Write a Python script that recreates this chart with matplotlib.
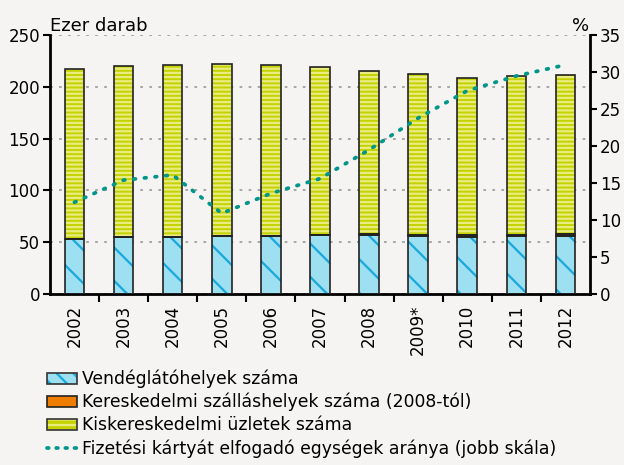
#!/usr/bin/env python3
"""Stacked bars (left scale) + card acceptance share line (right scale)."""

import matplotlib

matplotlib.use("Agg")
import matplotlib.pyplot as plt
from matplotlib.lines import Line2D
from matplotlib.patches import Patch

years = ["2002", "2003", "2004", "2005", "2006", "2007", "2008", "2009*", "2010", "2011", "2012"]
vendeglato = [53, 55, 55, 56, 56, 57, 56.5, 55.5, 55, 55.5, 55.5]
szallashely = [0, 0, 0, 0, 0, 0, 1.5, 1.5, 1.5, 1.5, 2]
kiskeresk = [164, 165, 166, 166, 165, 162, 158, 156, 152, 153.5, 154.5]
kartya_arany = [12.4, 15.4, 16.1, 10.9, 13.6, 15.6, 19.5, 23.8, 27.5, 29.5, 31.0]

labels = [
    "Vendéglátóhelyek száma",
    "Kereskedelmi szálláshelyek száma (2008-tól)",
    "Kiskereskedelmi üzletek száma",
    "Fizetési kártyát elfogadó egységek aránya (jobb skála)",
]

BG = "#f5f4f2"
BLUE = "#9de0f2"
BLUE_HATCH = "#1aa8dc"
ORANGE = "#ee7d00"
YELLOW = "#c4d200"
YELLOW_HATCH = "#e9ed80"
TEAL = "#00968a"
EDGE = "#222222"

plt.rcParams["font.family"] = ["DejaVu Sans"]
plt.rcParams["font.size"] = 12
plt.rcParams["hatch.linewidth"] = 1.6

fig = plt.figure(figsize=(6.24, 4.65), dpi=100, facecolor=BG)
ax = fig.add_axes([0.080, 0.368, 0.8655, 0.556])
ax.set_facecolor(BG)

x = list(range(len(years)))
w = 0.4
bottom2 = [a + b for a, b in zip(vendeglato, szallashely)]

# fills with hatch (hatch colour = edgecolor), then dark outlines on top
ax.bar(x, vendeglato, w, color=BLUE, edgecolor=BLUE_HATCH, hatch="\\", linewidth=0, zorder=2)
ax.bar(x, szallashely, w, bottom=vendeglato, color=ORANGE, linewidth=0, zorder=2)
ax.bar(x, kiskeresk, w, bottom=bottom2, color=YELLOW, edgecolor=YELLOW_HATCH, hatch="----",
       linewidth=0, zorder=2)
for vals, bot in ((vendeglato, None), (szallashely, vendeglato), (kiskeresk, bottom2)):
    ax.bar(x, vals, w, bottom=bot, fill=False, edgecolor=EDGE, linewidth=1.2, zorder=3)

ax.set_xlim(-0.5, len(years) - 0.5)
ax.set_ylim(0, 250)
ax.set_yticks(range(0, 251, 50))
ax.yaxis.grid(True, color="#a0a0a0", linestyle=(0, (1.5, 3.5)), linewidth=1.3, zorder=0)
ax.set_axisbelow(True)

ax.set_xticks(x)
ax.set_xticklabels(years, rotation=90)
ax.set_xticks([i + 0.5 for i in x[:-1]], minor=True)
ax.tick_params(axis="x", which="major", length=0, pad=8)
ax.tick_params(axis="x", which="minor", length=6, width=1.5, direction="out")
ax.tick_params(axis="y", length=5, width=1.5, direction="out", pad=2)

for s in ("top", "right"):
    ax.spines[s].set_visible(False)
for s in ("left", "bottom"):
    ax.spines[s].set_linewidth(2)

ax2 = ax.twinx()
ax2.plot(x, kartya_arany, color=TEAL, linewidth=2.7, linestyle=(0, (0.45, 2.4)),
         dash_capstyle="round", zorder=4)
ax2.set_ylim(0, 35)
ax2.set_yticks(range(0, 36, 5))
ax2.tick_params(axis="y", length=5, width=1.5, direction="out", pad=2)
for s in ("top", "left", "bottom"):
    ax2.spines[s].set_visible(False)
ax2.spines["right"].set_linewidth(2)

fig.text(0.080, 0.934, "Ezer darab", fontsize=13)
fig.text(0.944, 0.934, "%", fontsize=13, ha="right")

# legend
h_blue = (Patch(facecolor=BLUE, edgecolor=BLUE_HATCH, hatch="\\\\", linewidth=0),
          Patch(fill=False, edgecolor="#333333", linewidth=1.2))
h_orange = Patch(facecolor=ORANGE, edgecolor=EDGE, linewidth=1.2)
h_yellow = (Patch(facecolor=YELLOW, edgecolor=YELLOW_HATCH, hatch="---", linewidth=0),
            Patch(fill=False, edgecolor="#333333", linewidth=1.2))
h_line = Line2D([], [], color=TEAL, linewidth=2.7, linestyle=(0, (0.45, 2.0)), dash_capstyle="round")

fig.legend([h_blue, h_orange, h_yellow, h_line], labels,
           loc="upper left", bbox_to_anchor=(0.075, 0.205), frameon=False,
           fontsize=12.4, handlelength=1.75, handleheight=0.6, handletextpad=0.3,
           labelspacing=0.28, borderaxespad=0, borderpad=0)

fig.savefig("out.png", dpi=100, facecolor=BG)
